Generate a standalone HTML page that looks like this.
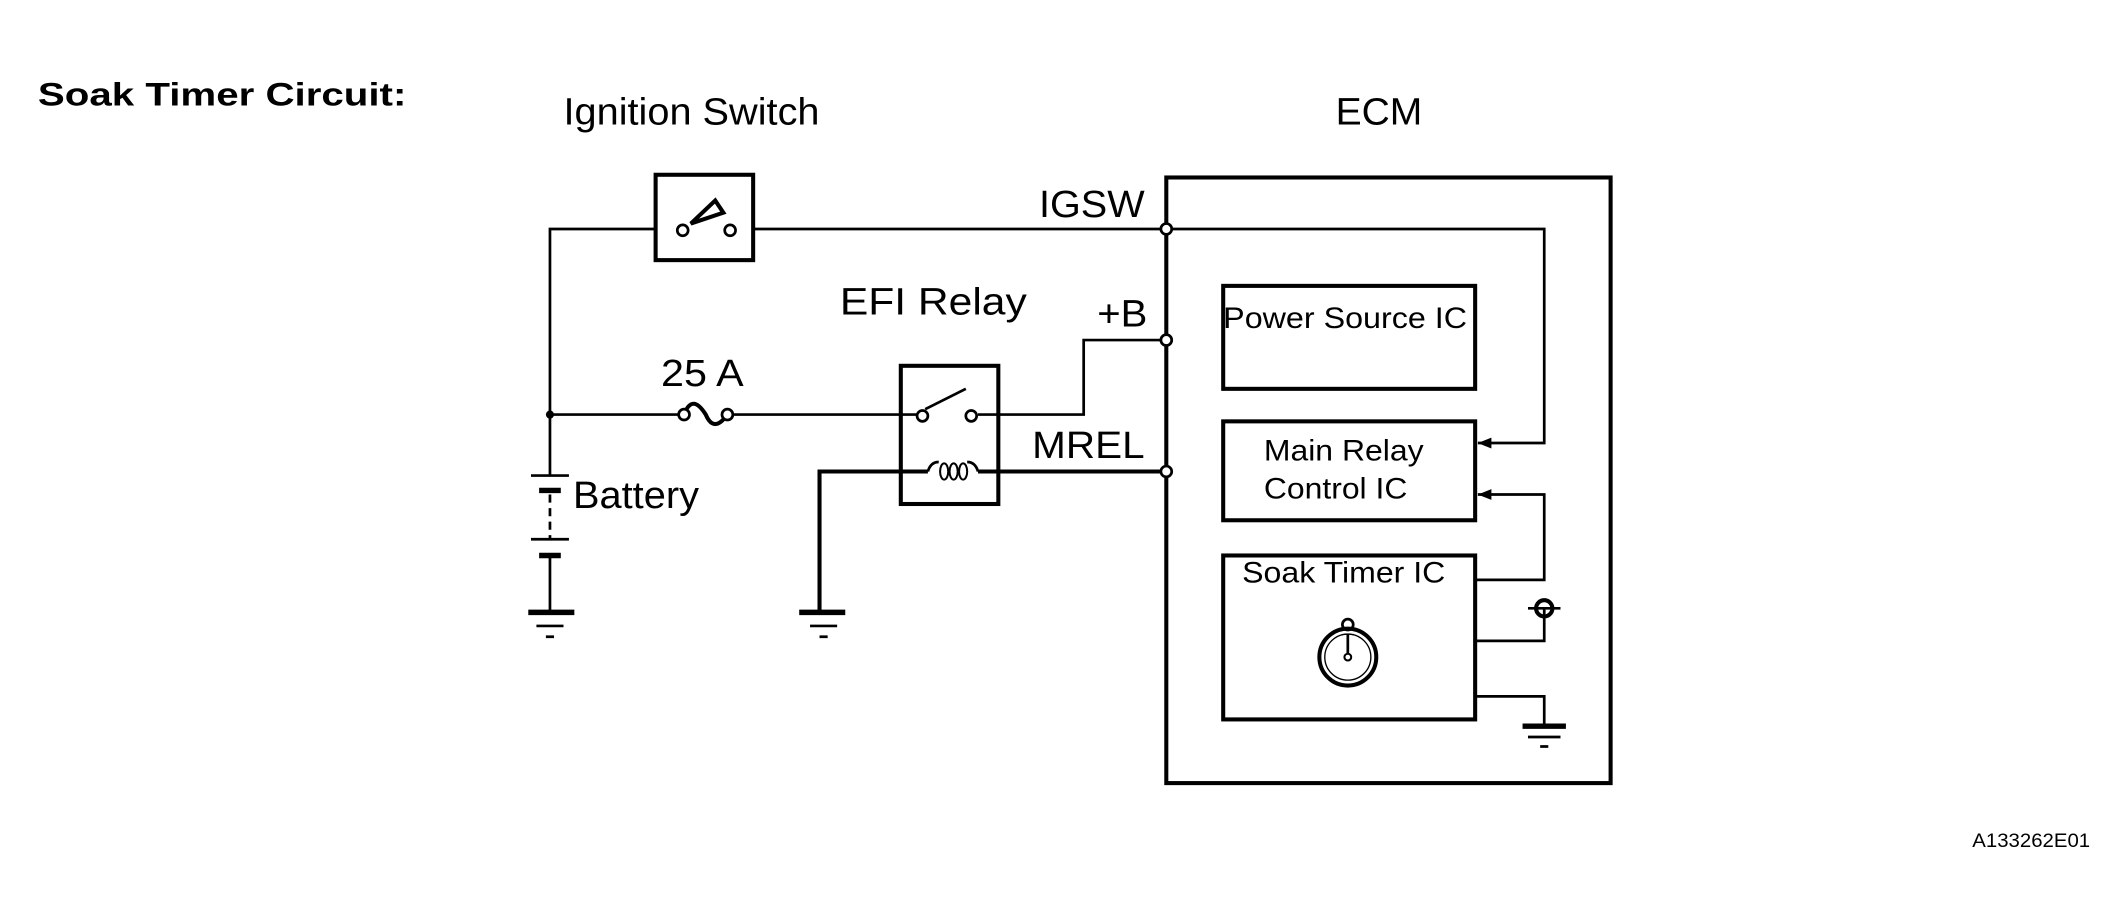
<!DOCTYPE html>
<html><head><style>html,body{margin:0;padding:0;background:#fff}svg{display:block}</style></head>
<body>
<svg width="2124" height="924" viewBox="0 0 1568 682" preserveAspectRatio="none" xmlns="http://www.w3.org/2000/svg" font-family="Liberation Sans, Arial, sans-serif">
<defs><marker id="ar" markerWidth="10" markerHeight="8" refX="10" refY="4" orient="auto" markerUnits="userSpaceOnUse"><path d="M0,0 L10,4 L0,8 Z" fill="#000"/></marker></defs>
<g>
<text x="28" y="78" font-size="24" font-weight="bold" textLength="272" lengthAdjust="spacingAndGlyphs">Soak Timer Circuit:</text>
<text x="416" y="92" font-size="28" textLength="189" lengthAdjust="spacingAndGlyphs">Ignition Switch</text>
<text x="986" y="92" font-size="28" textLength="64" lengthAdjust="spacingAndGlyphs">ECM</text>
<text x="620" y="232" font-size="28" textLength="138" lengthAdjust="spacingAndGlyphs">EFI Relay</text>
<text x="488" y="285" font-size="28" textLength="61" lengthAdjust="spacingAndGlyphs">25 A</text>
<text x="767" y="160" font-size="28" textLength="78" lengthAdjust="spacingAndGlyphs">IGSW</text>
<text x="810" y="241" font-size="28" textLength="37" lengthAdjust="spacingAndGlyphs">+B</text>
<text x="762" y="338" font-size="28" textLength="83" lengthAdjust="spacingAndGlyphs">MREL</text>
<text x="423" y="375" font-size="28" textLength="93" lengthAdjust="spacingAndGlyphs">Battery</text>
<text x="1456" y="625" font-size="14" textLength="87" lengthAdjust="spacingAndGlyphs">A133262E01</text>
<text x="903" y="242" font-size="22" textLength="180" lengthAdjust="spacingAndGlyphs">Power Source IC</text>
<text x="933" y="340" font-size="22" textLength="118" lengthAdjust="spacingAndGlyphs">Main Relay</text>
<text x="933" y="368" font-size="22" textLength="106" lengthAdjust="spacingAndGlyphs">Control IC</text>
<text x="917" y="430" font-size="22" textLength="150" lengthAdjust="spacingAndGlyphs">Soak Timer IC</text>
</g>
<g fill="none" stroke="#000">
<rect x="861" y="131" width="328" height="447" stroke-width="3"/>
<rect x="484" y="129" width="72" height="63" stroke-width="3"/>
<rect x="665" y="270" width="72" height="102" stroke-width="3"/>
<rect x="903" y="211" width="186" height="76" stroke-width="3"/>
<rect x="903" y="311" width="186" height="73" stroke-width="3"/>
<rect x="903" y="410" width="186" height="121" stroke-width="3"/>
<g stroke-width="2">
<path d="M484,169 H406 V351"/>
<path d="M406,410 V452"/>
<path d="M556,169 H861"/>
<path d="M861,169 H1140 V327 H1091" marker-end="url(#ar)"/>
<path d="M1089,428 H1140 V365 H1091" marker-end="url(#ar)"/>
<path d="M1089,473 H1140 V449"/>
<path d="M1089,514 H1140 V536"/>
<path d="M406,306 H501 M541,306 H677"/>
<path d="M722,306 H800 V251 H861"/>
<path d="M683,302 L713,287"/>
<path d="M406,365 V398" stroke-dasharray="6,4"/>
<path d="M392,351 H420 M392,398 H420 M396,462 H416 M403,470 H409 M598,462 H618 M605,470 H611 M1128,544 H1152 M1137,551 H1143"/>
</g>
<path d="M605,452 V348 H685 M722,348 H861" stroke-width="3"/>
<path d="M685,348 q2,-7 8,-7 M722,348 q-2,-7 -8,-7" stroke-width="2"/>
<ellipse cx="697" cy="348" rx="3" ry="6" stroke-width="1.5"/>
<ellipse cx="704" cy="348" rx="3" ry="6" stroke-width="1.5"/>
<ellipse cx="711" cy="348" rx="3" ry="6" stroke-width="1.5"/>
<path d="M505,306 q6,-16 16,0 q6,14 16,0" stroke-width="3"/>
<path d="M398,362 H414 M398,410 H414 M390,452 H424 M590,452 H624 M1124,536 H1156" stroke-width="4"/>
<path d="M510,165 L528,148 L534,157 Z" stroke-width="3"/>
<circle cx="995" cy="485" r="21" stroke-width="3"/>
<circle cx="995" cy="485" r="17" stroke-width="1"/>
<circle cx="995" cy="461" r="4" stroke-width="2"/>
<path d="M995,468 V483" stroke-width="2"/>
<path d="M1128,449 H1152" stroke-width="2"/>
<circle cx="1140" cy="449" r="6" stroke-width="3"/>
</g>
<g fill="#fff" stroke="#000" stroke-width="2">
<circle cx="504" cy="170" r="4"/><circle cx="539" cy="170" r="4"/>
<circle cx="681" cy="307" r="4"/><circle cx="717" cy="307" r="4"/>
<circle cx="505" cy="306" r="4"/><circle cx="537" cy="306" r="4"/>
<circle cx="861" cy="169" r="4"/><circle cx="861" cy="251" r="4"/><circle cx="861" cy="348" r="4"/>
</g>
<circle cx="406" cy="306" r="3" fill="#000"/>
<circle cx="995" cy="485" r="2.5" fill="#fff" stroke="#000" stroke-width="1.5"/>
</svg>
</body></html>
